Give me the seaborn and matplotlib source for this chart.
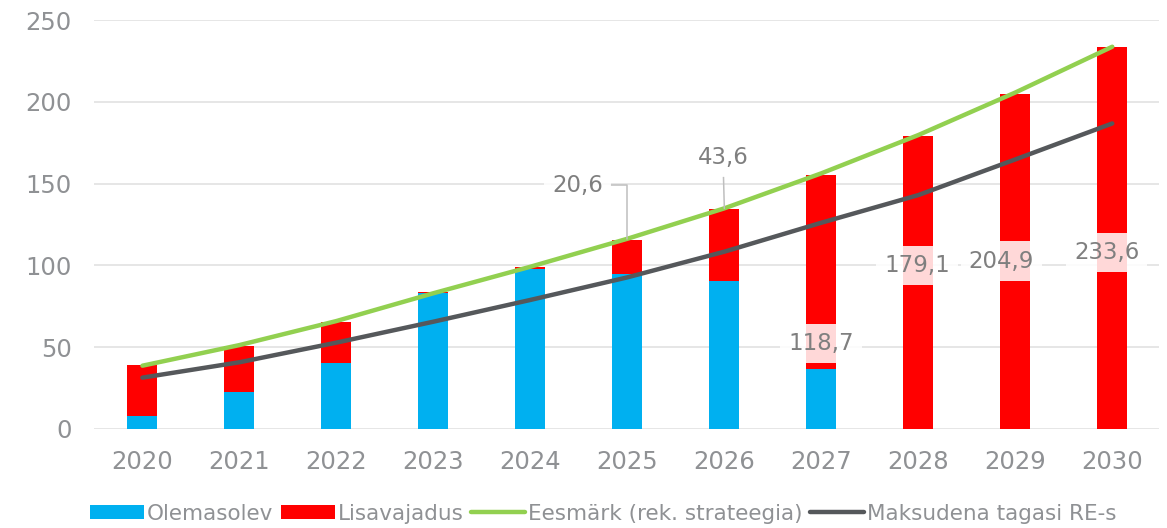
import numpy as np
import pandas as pd
import matplotlib
matplotlib.use('Agg')
import matplotlib.pyplot as plt
import seaborn as sns
from matplotlib.patches import Patch
from matplotlib.lines import Line2D

# Andmed (loetud graafikult)
years = [2020, 2021, 2022, 2023, 2024, 2025, 2026, 2027, 2028, 2029, 2030]
olemasolev = [8.2, 22.8, 40.2, 82.9, 98.0, 94.9, 90.7, 36.6, 0.0, 0.0, 0.0]
lisavajadus = [30.8, 28.0, 25.4, 0.6, 1.0, 20.6, 43.6, 118.7, 179.1, 204.9, 233.6]
eesmark = [38.7, 51.3, 66.0, 83.0, 99.2, 116.3, 134.9, 156.3, 179.7, 205.7, 233.7]
maksudena = [31.4, 40.8, 52.8, 65.6, 78.9, 92.7, 108.4, 126.1, 143.0, 164.8, 186.8]

# siltidega aastad
callout_years = [2025, 2026]
inside_years = [2027, 2028, 2029, 2030]

BLUE = '#00B0F0'
RED = '#FF0000'
GREEN = '#92D050'
DARK = '#55585B'
TICK_GREY = '#8F9194'
LABEL_GREY = '#7F7F7F'

df = pd.DataFrame({
    'year': years,
    'olemasolev': olemasolev,
    'lisavajadus': lisavajadus,
    'eesmark': eesmark,
    'maksudena': maksudena,
})
df['total'] = df['olemasolev'] + df['lisavajadus']

sns.set_theme(style='white')
plt.rcParams['font.family'] = ['DejaVu Sans']

fig = plt.figure(figsize=(11.67, 5.28), dpi=100)
ax = fig.add_axes([0.0805, 0.1875, 0.9125, 0.7745])

# virnastatud tulbad: kogusumma punasena, olemasolev sinisena peale
sns.barplot(data=df, x='year', y='total', color=RED, saturation=1, width=0.31,
            native_scale=True, linewidth=0, edgecolor='none', ax=ax, zorder=2)
sns.barplot(data=df, x='year', y='olemasolev', color=BLUE, saturation=1, width=0.31,
            native_scale=True, linewidth=0, edgecolor='none', ax=ax, zorder=3)

sns.lineplot(data=df, x='year', y='eesmark', color=GREEN, linewidth=3.2, ax=ax, zorder=5,
             solid_capstyle='round')
sns.lineplot(data=df, x='year', y='maksudena', color=DARK, linewidth=3.2, ax=ax, zorder=5,
             solid_capstyle='round')

ax.set_ylim(0, 250)
ax.set_xlim(years[0] - 0.5, years[-1] + 0.48)
ax.set_yticks([0, 50, 100, 150, 200, 250])
ax.set_xticks(years)
ax.set_xticklabels([str(y) for y in years])
ax.set_xlabel('')
ax.set_ylabel('')
ax.grid(axis='y', color='#E2E2E2', linewidth=1.2, zorder=0)
ax.set_axisbelow(True)
for s in ax.spines.values():
    s.set_visible(False)
ax.tick_params(axis='both', length=0, labelsize=17.5, colors=TICK_GREY)
ax.tick_params(axis='y', pad=16)
ax.tick_params(axis='x', pad=15)

box = dict(boxstyle='square,pad=0.35', fc='white', ec='none', alpha=0.85)

def fmt(v):
    return f'{v:.1f}'.replace('.', ',')

# väljatõmmatud sildid koos juhtjoonega
offsets = {2025: (-36, 39), 2026: (-1, 37)}
for yr in callout_years:
    i = years.index(yr)
    top = olemasolev[i] + lisavajadus[i]
    conn = 'angle,angleA=0,angleB=90,rad=0' if yr == 2025 else 'arc3'
    ax.annotate(fmt(lisavajadus[i]), xy=(yr, top + 0.5), xytext=offsets[yr],
                textcoords='offset points', ha='center', va='center',
                fontsize=16.5, color=LABEL_GREY, bbox=box, zorder=6,
                arrowprops=dict(arrowstyle='-', color='#BFBFBF', lw=1.1,
                                connectionstyle=conn, shrinkA=0, shrinkB=0))

# sildid tulpade sees
inside_pos = {2027: 52.5, 2028: 100.2, 2029: 102.7, 2030: 108.0}
inside_dx = {2027: 0, 2028: -1, 2029: -10, 2030: -4}
for yr in inside_years:
    i = years.index(yr)
    ax.annotate(fmt(lisavajadus[i]), xy=(yr, inside_pos[yr]), xytext=(inside_dx[yr], 0),
                textcoords='offset points', ha='center', va='center',
                fontsize=16.5, color=LABEL_GREY, bbox=box, zorder=6)

handles = [
    Patch(facecolor=BLUE, edgecolor='none'),
    Patch(facecolor=RED, edgecolor='none'),
    Line2D([0], [0], color=GREEN, linewidth=3.2, solid_capstyle='round'),
    Line2D([0], [0], color=DARK, linewidth=3.2, solid_capstyle='round'),
]
labels = ['Olemasolev', 'Lisavajadus', 'Eesmärk (rek. strateegia)', 'Maksudena tagasi RE-s']
leg = fig.legend(handles, labels, loc='center', bbox_to_anchor=(0.517, 0.027), ncol=4,
                 frameon=False, fontsize=15.5, handlelength=2.5, handleheight=0.62,
                 handletextpad=0.15, columnspacing=0.35, borderaxespad=0)
for t in leg.get_texts():
    t.set_color(TICK_GREY)

fig.savefig('out.png', dpi=100)
